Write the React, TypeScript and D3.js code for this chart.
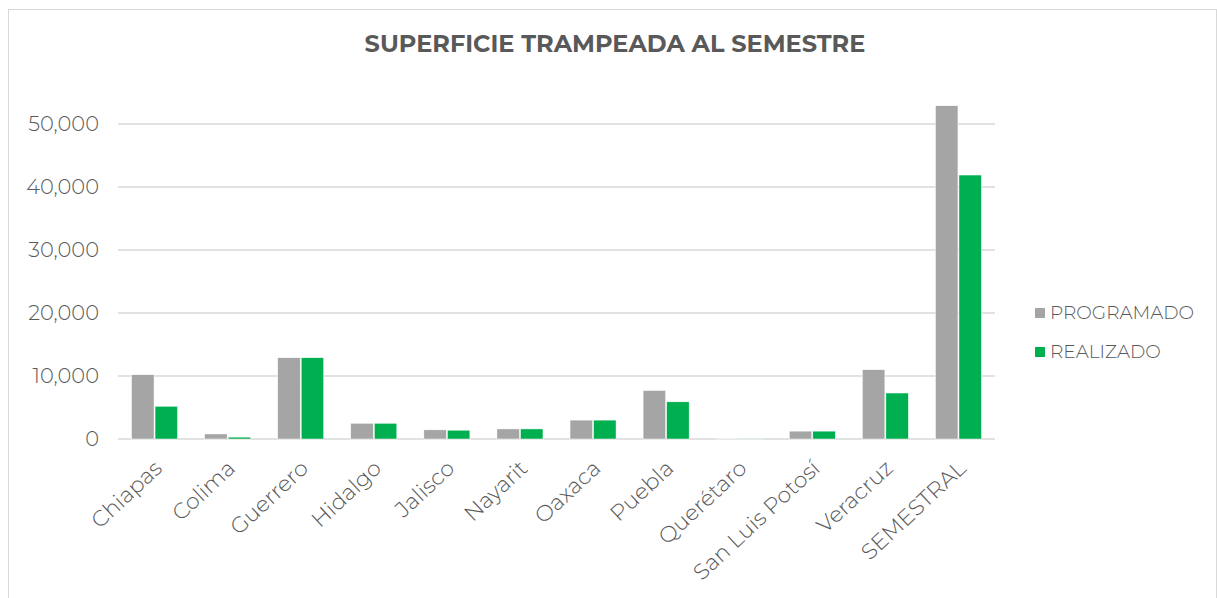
import React from 'react';
import * as d3 from 'd3';

const categories = ['Chiapas', 'Colima', 'Guerrero', 'Hidalgo', 'Jalisco', 'Nayarit', 'Oaxaca', 'Puebla', 'Querétaro', 'San Luis Potosí', 'Veracruz', 'SEMESTRAL'];
const programado = [10200, 800, 12900, 2500, 1450, 1600, 3000, 7700, 100, 1250, 11000, 52900];
const realizado = [5200, 300, 12900, 2500, 1400, 1600, 3000, 5900, 100, 1250, 7300, 41900];
const yTicks = [0, 10000, 20000, 30000, 40000, 50000];
const seriesNames = ['PROGRAMADO', 'REALIZADO'];
const seriesColors = ['#a5a5a5', '#00b050'];

const W = 1217;
const H = 598;
const font = 'Montserrat, "Open Sans", sans-serif';

export default function App() {
  const margin = { left: 118, right: 222, top: 123, bottom: 159 };
  const x = d3.scaleBand().domain(categories).range([margin.left, W - margin.right]).paddingInner(0.37).paddingOuter(0.185);
  const y = d3.scaleLinear().domain([0, 50000]).range([439, 124]);
  const fmt = d3.format(',');
  const bw = x.bandwidth() / 2;
  const series = [programado, realizado];

  return (
    <svg width={W} height={H} style={{ position: 'absolute', left: 0, top: 0, fontFamily: font }}>
      <rect x={0} y={0} width={W} height={H} fill="#fff" />
      <rect x={8.5} y={9.5} width={W - 9} height={H} fill="none" stroke="#d9d9d9" />
      <text x={615} y={52} textAnchor="middle" fontSize={24} fontWeight="bold" fill="#595959">SUPERFICIE TRAMPEADA AL SEMESTRE</text>
      {yTicks.map(t => (
        <g key={t}>
          <line x1={margin.left} x2={W - margin.right} y1={y(t)} y2={y(t)} stroke="#d9d9d9" strokeWidth={1.5} />
          <text x={99} y={y(t)} dy="0.35em" textAnchor="end" fontSize={21} fontWeight={300} fill="#595959">{fmt(t)}</text>
        </g>
      ))}
      {series.map((vals, si) => vals.map((v, i) => (
        <rect key={si + '-' + i} x={(x(categories[i]) as number) + si * (bw + 0.5)} y={y(v)} width={bw - 0.5} height={y(0) - y(v)} fill={seriesColors[si]} stroke="#fff" strokeWidth={0.5} />
      )))}
      {categories.map(c => {
        const cx = (x(c) as number) + x.bandwidth() / 2;
        return (
          <text key={c} transform={`translate(${cx + 9},${470}) rotate(-43)`} textAnchor="end" fontSize={22} fontWeight={300} fill="#595959">{c}</text>
        );
      })}
      {seriesNames.map((n, i) => (
        <g key={n} transform={`translate(1035,${313 + i * 39})`}>
          <rect x={0} y={-5} width={10} height={10} fill={seriesColors[i]} />
          <text x={15} y={0} dy="0.35em" fontSize={18.5} fontWeight={300} fill="#595959">{n}</text>
        </g>
      ))}
    </svg>
  );
}
